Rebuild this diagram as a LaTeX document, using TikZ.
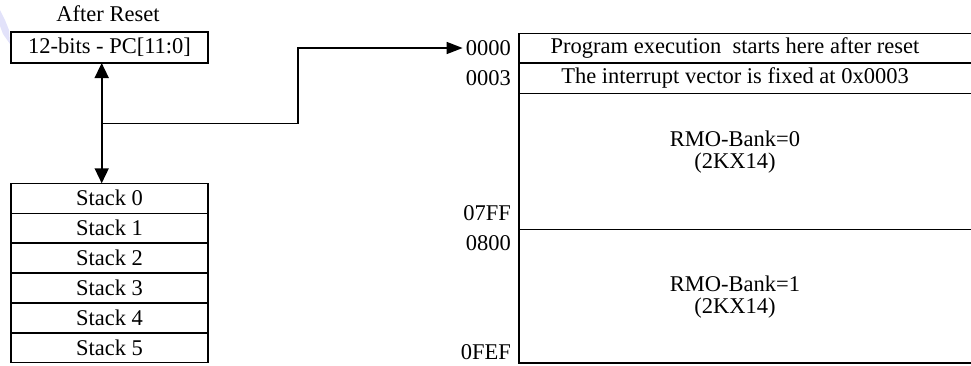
\documentclass[tikz,border=0pt]{standalone}
\usepackage{fontspec}
\setmainfont{Liberation Serif}
\usetikzlibrary{arrows.meta}
\definecolor{wmark}{RGB}{226,226,250}
\tikzset{
  txt/.style={inner sep=0pt, font=\fontsize{22.5}{22}\selectfont},
  cell/.style={draw, line width=1.4pt, minimum width=197pt, minimum height=29.9pt,
               inner sep=0pt, outer sep=0pt, font=\fontsize{22.5}{22}\selectfont},
  addr/.style={txt, anchor=east},
  wire/.style={line width=1.6pt},
  vtip/.style={-{Triangle[length=15pt,width=14pt]}},
  htip/.style={-{Triangle[length=16pt,width=12pt]}},
}
\begin{document}
\begin{tikzpicture}[x=1pt,y=-1pt]
\useasboundingbox (0,0) rectangle (971,365);

% faint mark in the corner
\fill[wmark] (0,10) -- (5,20) -- (9,30) -- (10,44) -- (3,34) -- (0,26) -- cycle;

% program counter
\node[txt] (title) at (108,14) {After Reset};
\node[cell, minimum height=31pt] (pc) at (109.5,47.5) {12-bits - PC[11:0]};

% stack levels
\node[cell] (s0) at (109.5,198.25) {Stack 0};
\node[cell, anchor=north] (s1) at (s0.south) {Stack 1};
\node[cell, anchor=north] (s2) at (s1.south) {Stack 2};
\node[cell, anchor=north] (s3) at (s2.south) {Stack 3};
\node[cell, anchor=north] (s4) at (s3.south) {Stack 4};
\node[cell, anchor=north] (s5) at (s4.south) {Stack 5};

% program memory map
\draw[line width=1.6pt] (972,33.3) -| (519,363) -- (972,363);
\draw[line width=1.6pt] (519,62.7) -- (972,62.7);
\draw[line width=1.6pt] (519,93.3) -- (972,93.3);
\draw[line width=1.6pt] (519,229.3) -- (972,229.3);

\node[txt] (r0) at (735,48) {Program execution~ starts here after reset};
\node[txt] (r1) at (735,78) {The interrupt vector is fixed at 0x0003};
\node[txt, align=center] (b0) at (735,152) {RMO-Bank=0\\(2KX14)};
\node[txt, align=center] (b1) at (735,297.5) {RMO-Bank=1\\(2KX14)};

\node[addr] (a0) at (511,48) {0000};
\node[addr] (a3) at (511,78) {0003};
\node[addr] (a7ff) at (511,213) {07FF};
\node[addr] (a800) at (511,243) {0800};
\node[addr] (afef) at (511,352) {0FEF};

% connectors
\coordinate (branch) at (101.7,123.3);
\coordinate (bend) at (298,123.3);
\draw[wire, vtip] (branch) -- (pc.south -| branch);
\draw[wire, vtip] (branch) -- (s0.north -| branch);
\draw[wire, htip] (branch) -- (bend) |- ([xshift=-3pt]a0.west);
\end{tikzpicture}
\end{document}
